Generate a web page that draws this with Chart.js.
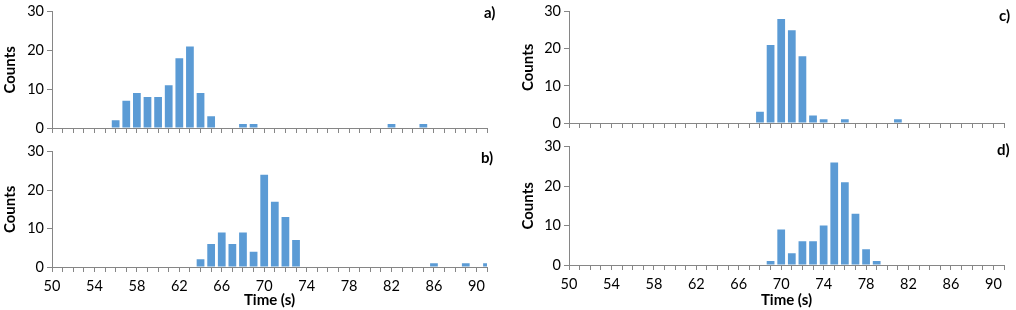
<!DOCTYPE html>
<html lang="en">
<head>
    <meta charset="UTF-8">
    <title>Counts vs time</title>
    <script src="https://cdn.jsdelivr.net/npm/chart.js"></script>
    <style>
        body {
            margin: 0;
            background: #fff;
            width: 1016px;
            height: 310px;
            position: relative;
            overflow: hidden;
            font-family: 'Lato', sans-serif;
        }
        .panel { position: absolute; }
        .tag {
            position: absolute;
            font-weight: bold;
            font-size: 15px;
            line-height: 16px;
            color: #000;
        }
    </style>
</head>
<body>
    <div class="panel" style="left:0;top:0;width:500px;height:140px"><canvas id="chartA"></canvas></div>
    <div class="panel" style="left:0;top:140px;width:500px;height:170px"><canvas id="chartB"></canvas></div>
    <div class="panel" style="left:516px;top:0;width:500px;height:135px"><canvas id="chartC"></canvas></div>
    <div class="panel" style="left:516px;top:135px;width:500px;height:175px"><canvas id="chartD"></canvas></div>

    <div class="tag" style="left:484px;top:4px">a)</div>
    <div class="tag" style="left:481px;top:149px">b)</div>
    <div class="tag" style="left:999px;top:7px">c)</div>
    <div class="tag" style="left:997px;top:141px">d)</div>

    <script>
        // x tick labels (seconds) and y tick labels (counts)
        const xTickLabels = [50, 54, 58, 62, 66, 70, 74, 78, 82, 86, 90];
        const yTickLabels = [0, 10, 20, 30];

        // a)
        const timeA = [56, 57, 58, 59, 60, 61, 62, 63, 64, 65, 68, 69, 82, 85];
        const countA = [2, 7, 9, 8, 8, 11, 18, 21, 9, 3, 1, 1, 1, 1];
        // b)
        const timeB = [64, 65, 66, 67, 68, 69, 70, 71, 72, 73, 86, 89, 91];
        const countB = [2, 6, 9, 6, 9, 4, 24, 17, 13, 7, 1, 1, 1];
        // c)
        const timeC = [68, 69, 70, 71, 72, 73, 74, 76, 81];
        const countC = [3, 21, 28, 25, 18, 2, 1, 1, 1];
        // d)
        const timeD = [69, 70, 71, 72, 73, 74, 75, 76, 77, 78, 79];
        const countD = [1, 9, 3, 6, 6, 10, 26, 21, 13, 4, 1];

        const axisColor = '#868686';
        const barColor = '#5B9BD5';
        const fontFamily = "'Lato', sans-serif";

        function makeChart(id, times, counts, cfg) {
            const points = times.map((t, i) => ({ x: t, y: counts[i] }));
            return new Chart(document.getElementById(id), {
                type: 'bar',
                data: {
                    datasets: [{
                        data: points,
                        backgroundColor: barColor,
                        borderWidth: 0,
                        barPercentage: 0.73,
                        categoryPercentage: 1
                    }]
                },
                options: {
                    responsive: true,
                    maintainAspectRatio: false,
                    animation: false,
                    layout: { padding: { top: cfg.padTop, right: cfg.padRight, left: 0, bottom: 0 } },
                    plugins: { legend: { display: false }, tooltip: { enabled: false } },
                    scales: {
                        x: {
                            type: 'linear',
                            min: 50,
                            max: 91,
                            offset: false,
                            grid: { drawOnChartArea: false, offset: false, color: axisColor, tickLength: 5 },
                            border: { color: axisColor },
                            ticks: {
                                stepSize: 1,
                                autoSkip: false,
                                maxRotation: 0,
                                padding: 6,
                                color: '#000',
                                font: { family: fontFamily, size: 14.5 },
                                callback: (v) => (cfg.showX && xTickLabels.includes(v)) ? String(v) : ''
                            },
                            title: {
                                display: cfg.showX,
                                text: 'Time (s)',
                                color: '#000',
                                font: { family: fontFamily, size: 15, weight: 'bold' },
                                padding: { top: 0, bottom: 1 }
                            },
                            afterFit: (s) => { s.height = cfg.xHeight; }
                        },
                        y: {
                            min: 0,
                            max: 30,
                            grid: { drawOnChartArea: false, color: axisColor, tickLength: 5 },
                            border: { color: axisColor },
                            ticks: {
                                stepSize: 10,
                                padding: 3,
                                color: '#000',
                                font: { family: fontFamily, size: 14.5 },
                                callback: (v) => yTickLabels.includes(v) ? String(v) : ''
                            },
                            title: {
                                display: true,
                                text: 'Counts',
                                color: '#000',
                                font: { family: fontFamily, size: 15, weight: 'bold' },
                                padding: { top: cfg.titlePad, bottom: 0 }
                            },
                            afterFit: (s) => { s.width = cfg.yWidth; }
                        }
                    }
                }
            });
        }

        makeChart('chartA', timeA, countA, { padTop: 7, padRight: 13, xHeight: 12, yWidth: 52, showX: false, titlePad: 1 });
        makeChart('chartB', timeB, countB, { padTop: 10, padRight: 13, xHeight: 43, yWidth: 52, showX: true, titlePad: 1 });
        makeChart('chartC', timeC, countC, { padTop: 7, padRight: 12, xHeight: 12, yWidth: 53, showX: false, titlePad: 3 });
        makeChart('chartD', timeD, countD, { padTop: 7, padRight: 12, xHeight: 45, yWidth: 53, showX: true, titlePad: 3 });
    </script>
</body>
</html>
